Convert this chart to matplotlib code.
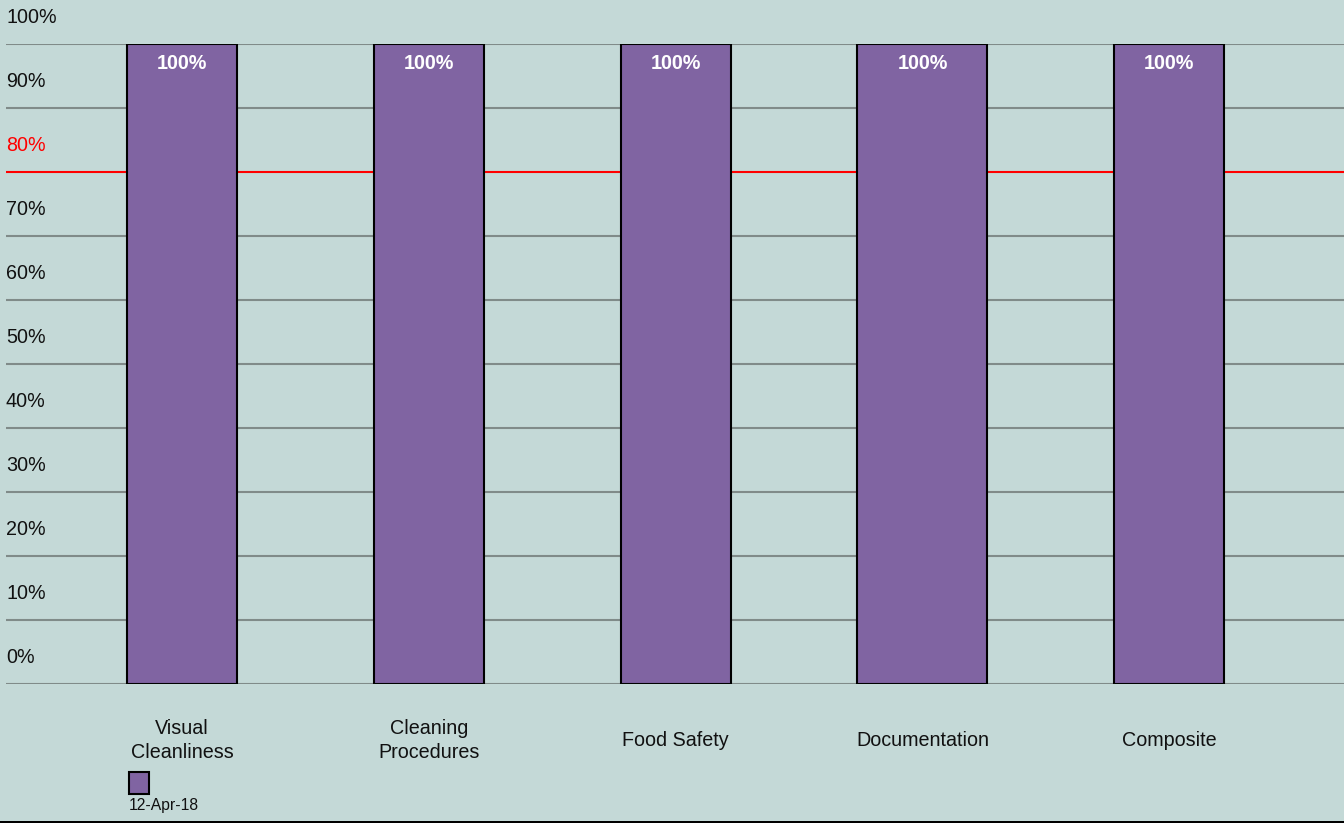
import matplotlib
matplotlib.use("Agg")
import matplotlib.pyplot as plt
from matplotlib.patches import Rectangle

categories = ["Visual\nCleanliness", "Cleaning\nProcedures", "Food Safety", "Documentation", "Composite"]
series_name = "12-Apr-18"
values = [100, 100, 100, 100, 100]
y_ticks = [0, 10, 20, 30, 40, 50, 60, 70, 80, 90, 100]
y_tick_labels = ["0%", "10%", "20%", "30%", "40%", "50%", "60%", "70%", "80%", "90%", "100%"]
target = 80

BG = "#C4D9D7"
BAR = "#8064A2"
GRID = "#808B89"
FONT = ["Liberation Sans", "DejaVu Sans"]

plt.rcParams["font.family"] = FONT

W, H, DPI = 1344, 829, 100
fig = plt.figure(figsize=(W / DPI, H / DPI), dpi=DPI, facecolor=BG)

ax_left, ax_right, ax_top, ax_bottom = 6, 1344, 44.5, 684.5
ax = fig.add_axes([ax_left / W, (H - ax_bottom) / H, (ax_right - ax_left) / W, (ax_bottom - ax_top) / H])
ax.set_facecolor(BG)
for s in ax.spines.values():
    s.set_visible(False)
ax.set_xticks([])
ax.set_yticks([])
ax.set_ylim(0, 100)
ax.set_xlim(-0.7141, 4.7084)

# gridlines
for v in y_ticks:
    if v == target:
        continue
    ax.axhline(v, color=GRID, lw=1.5, zorder=1)
ax.axhline(target, color="#FF0000", lw=1.5, zorder=1)

# y labels (drawn above each gridline, inside plot)
for v, lab in zip(y_ticks, y_tick_labels):
    ax.annotate(lab, xy=(0, v), xycoords=("axes fraction", "data"), xytext=(0, 27),
                textcoords="offset pixels", ha="left", va="center", fontsize=14.2,
                color="#FF0000" if v == target else "#111111", annotation_clip=False)

x = list(range(len(categories)))
widths = [0.4458, 0.4458, 0.4458, 0.527, 0.4458]
ax.bar(x, values, width=widths, color=BAR, edgecolor="black", linewidth=1.5, zorder=3)

for xi, v in zip(x, values):
    ax.annotate(f"{v:.0f}%", xy=(xi, v), xytext=(0, -19), textcoords="offset pixels",
                ha="center", va="center", fontsize=14.2, fontweight="bold", color="white", zorder=4)

for xi, cat in zip(x, categories):
    ax.annotate(cat, xy=(xi, 0), xycoords=("data", "axes fraction"), xytext=(0, -56),
                textcoords="offset pixels", ha="center", va="center", fontsize=14.2,
                color="#111111", multialignment="center", linespacing=1.35,
                annotation_clip=False)

# legend (manual)
fig.patches.append(Rectangle((129 / W, (H - 795) / H), 20 / W, 22 / H, transform=fig.transFigure,
                             facecolor=BAR, edgecolor="black", linewidth=1.5, zorder=5))
fig.text(129 / W, (H - 806) / H, series_name, ha="left", va="center", fontsize=11.3, color="#111111")

# bottom border
fig.patches.append(Rectangle((0, 0), 1, (H - 824) / H, transform=fig.transFigure,
                             facecolor="white", edgecolor="none", zorder=5))
fig.patches.append(Rectangle((0, (H - 824) / H), 1, 2.5 / H, transform=fig.transFigure,
                             facecolor="black", edgecolor="none", zorder=5))

fig.savefig("out.png", dpi=DPI, facecolor=BG)
